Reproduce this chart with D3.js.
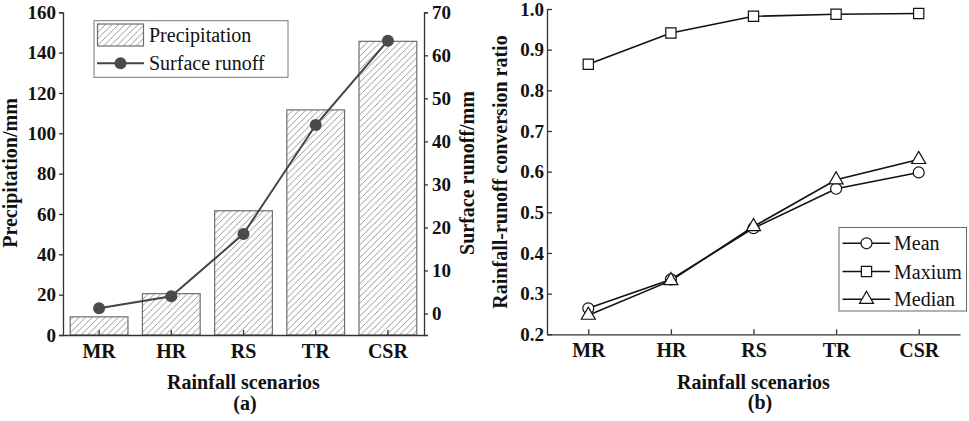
<!DOCTYPE html>
<html><head><meta charset="utf-8">
<script src="https://cdn.jsdelivr.net/npm/d3@7"></script>
<style>body{margin:0;background:#fff}svg{display:block}text{font-family:"Liberation Serif","Times New Roman",serif}</style>
</head><body>
<svg id="c" width="969" height="421"></svg>
<script>
const categories = ["MR","HR","RS","TR","CSR"];
const precipitation = [9.0, 20.5, 61.6, 111.6, 145.6];
const surfaceRunoff = [1.2, 4.0, 18.5, 43.8, 63.4];
const ratioMean = [0.264, 0.335, 0.461, 0.558, 0.598];
const ratioMax = [0.864, 0.941, 0.982, 0.987, 0.989];
const ratioMedian = [0.247, 0.332, 0.465, 0.580, 0.630];
const precipTicks = [0,20,40,60,80,100,120,140,160];
const runoffTicks = [0,10,20,30,40,50,60,70];
const ratioTicks = [0.2,0.3,0.4,0.5,0.6,0.7,0.8,0.9,1.0];

const svg = d3.select("#c");
const defs = svg.append("defs");
const pat = defs.append("pattern").attr("id","hatch").attr("patternUnits","userSpaceOnUse")
  .attr("width",6.5).attr("height",6.5);
pat.append("rect").attr("width",6.5).attr("height",6.5).attr("fill","#fff");
pat.append("path").attr("d","M-1,7.5 L7.5,-1 M-1,1 L1,-1 M5.5,7.5 L7.5,5.5")
  .attr("stroke","#8a8a8a").attr("stroke-width",0.9);

const axisColor = "#333";
function styleAxis(g, size){
  g.selectAll("path").attr("stroke",axisColor).attr("stroke-width",1.3);
  g.selectAll("line").attr("stroke",axisColor).attr("stroke-width",1.3);
  g.selectAll("text").attr("font-size",size).attr("font-weight","bold").attr("fill","#111")
   .attr("font-family","'Liberation Serif',serif");
}

// ---------- Panel (a) ----------
const a = {l:63, r:424, t:12.3, b:335};
const xa = d3.scaleBand().domain(categories).range([a.l,a.r]).paddingInner(0.2).paddingOuter(0.1);
const ya = d3.scaleLinear().domain([0,160]).range([a.b,a.t]);
const yr = d3.scaleLinear().domain([-5,70]).range([a.b,a.t]);

svg.append("g").selectAll("rect").data(categories).join("rect")
  .attr("x",d=>xa(d)).attr("width",xa.bandwidth())
  .attr("y",(d,i)=>ya(precipitation[i])).attr("height",(d,i)=>ya(0)-ya(precipitation[i]))
  .attr("fill","url(#hatch)").attr("stroke","#6e6e6e").attr("stroke-width",1.2);

const gxa = svg.append("g").attr("transform",`translate(0,${a.b})`)
  .call(d3.axisBottom(xa).tickSizeInner(-5).tickSizeOuter(0).tickPadding(9));
styleAxis(gxa,20);
const gya = svg.append("g").attr("transform",`translate(${a.l},0)`)
  .call(d3.axisLeft(ya).tickValues(precipTicks).tickSize(4).tickPadding(3));
styleAxis(gya,19);
const gyr = svg.append("g").attr("transform",`translate(${a.r},0)`)
  .call(d3.axisRight(yr).tickValues(runoffTicks).tickSize(4).tickPadding(4));
styleAxis(gyr,19);

const lineA = d3.line().x((d,i)=>xa(categories[i])+xa.bandwidth()/2).y(d=>yr(d));
svg.append("path").datum(surfaceRunoff).attr("d",lineA).attr("fill","none")
  .attr("stroke","#444").attr("stroke-width",2);
svg.append("g").selectAll("circle").data(surfaceRunoff).join("circle")
  .attr("cx",(d,i)=>xa(categories[i])+xa.bandwidth()/2).attr("cy",d=>yr(d))
  .attr("r",6).attr("fill","#4a4a4a");

// legend (a)
const la = svg.append("g");
la.append("rect").attr("x",94).attr("y",20.7).attr("width",194).attr("height",56.6)
  .attr("fill","#fff").attr("stroke","#777").attr("stroke-width",1);
la.append("rect").attr("x",97.5).attr("y",24).attr("width",46).attr("height",22)
  .attr("fill","url(#hatch)").attr("stroke","#6e6e6e").attr("stroke-width",1.2);
la.append("line").attr("x1",97).attr("x2",144).attr("y1",63.3).attr("y2",63.3)
  .attr("stroke","#444").attr("stroke-width",2);
la.append("circle").attr("cx",120.5).attr("cy",63.3).attr("r",6).attr("fill","#4a4a4a");
la.append("text").attr("x",149).attr("y",42).attr("font-size",20).attr("fill","#111").text("Precipitation");
la.append("text").attr("x",149).attr("y",70).attr("font-size",20).attr("fill","#111").text("Surface runoff");

// titles (a)
svg.append("text").attr("transform","translate(17,173) rotate(-90)").attr("text-anchor","middle")
  .attr("font-size",20).attr("font-weight","bold").attr("fill","#111").text("Precipitation/mm");
svg.append("text").attr("transform","translate(474,173) rotate(-90)").attr("text-anchor","middle")
  .attr("font-size",20).attr("font-weight","bold").attr("fill","#111").text("Surface runoff/mm");
svg.append("text").attr("x",243.5).attr("y",389).attr("text-anchor","middle")
  .attr("font-size",20).attr("font-weight","bold").attr("fill","#111").text("Rainfall scenarios");
svg.append("text").attr("x",245).attr("y",410).attr("text-anchor","middle")
  .attr("font-size",20).attr("font-weight","bold").attr("fill","#111").text("(a)");

// ---------- Panel (b) ----------
const b = {l:547, r:960, t:9, b:334.3};
const xb = d3.scalePoint().domain(categories).range([b.l,b.r]).padding(0.5);
const yb = d3.scaleLinear().domain([0.2,1.0]).range([b.b,b.t]);

const gxb = svg.append("g").attr("transform",`translate(0,${b.b})`)
  .call(d3.axisBottom(xb).tickSizeInner(-5).tickSizeOuter(0).tickPadding(9));
styleAxis(gxb,20);
const gyb = svg.append("g").attr("transform",`translate(${b.l},0)`)
  .call(d3.axisLeft(yb).tickValues(ratioTicks).tickFormat(d3.format(".1f")).tickSizeInner(-5).tickSizeOuter(0).tickPadding(3));
styleAxis(gyb,19);

const lineB = d3.line().x((d,i)=>xb(categories[i])).y(d=>yb(d));
const series = [
  {name:"Mean", vals:ratioMean, sym:d3.symbolCircle, size:95},
  {name:"Maxium", vals:ratioMax, sym:d3.symbolSquare, size:105},
  {name:"Median", vals:ratioMedian, sym:d3.symbolTriangle, size:85}
];
series.forEach(s=>{
  svg.append("path").datum(s.vals).attr("d",lineB).attr("fill","none")
    .attr("stroke","#111").attr("stroke-width",1.6);
});
series.forEach(s=>{
  svg.append("g").selectAll("path").data(s.vals).join("path")
    .attr("d",d3.symbol().type(s.sym).size(s.size))
    .attr("transform",(d,i)=>`translate(${xb(categories[i])},${yb(d)})`)
    .attr("fill","#fff").attr("stroke","#111").attr("stroke-width",1.2);
});

// legend (b)
const lb = svg.append("g");
lb.append("rect").attr("x",839).attr("y",227.5).attr("width",127.5).attr("height",83.5)
  .attr("fill","#fff").attr("stroke","#666").attr("stroke-width",1);
const legY = [243.3, 271.5, 299.3];
series.forEach((s,i)=>{
  lb.append("line").attr("x1",842.5).attr("x2",890).attr("y1",legY[i]).attr("y2",legY[i])
    .attr("stroke","#111").attr("stroke-width",1.6);
  lb.append("path").attr("d",d3.symbol().type(s.sym).size(s.size))
    .attr("transform",`translate(866.5,${legY[i]})`).attr("fill","#fff").attr("stroke","#111").attr("stroke-width",1.2);
  lb.append("text").attr("x",894).attr("y",legY[i]+7).attr("font-size",20).attr("fill","#111").text(s.name);
});

svg.append("text").attr("transform","translate(507,172) rotate(-90)").attr("text-anchor","middle")
  .attr("font-size",20).attr("font-weight","bold").attr("fill","#111").text("Rainfall-runoff conversion ratio");
svg.append("text").attr("x",753.5).attr("y",388.5).attr("text-anchor","middle")
  .attr("font-size",20).attr("font-weight","bold").attr("fill","#111").text("Rainfall scenarios");
svg.append("text").attr("x",760).attr("y",409).attr("text-anchor","middle")
  .attr("font-size",20).attr("font-weight","bold").attr("fill","#111").text("(b)");
</script>
</body></html>
